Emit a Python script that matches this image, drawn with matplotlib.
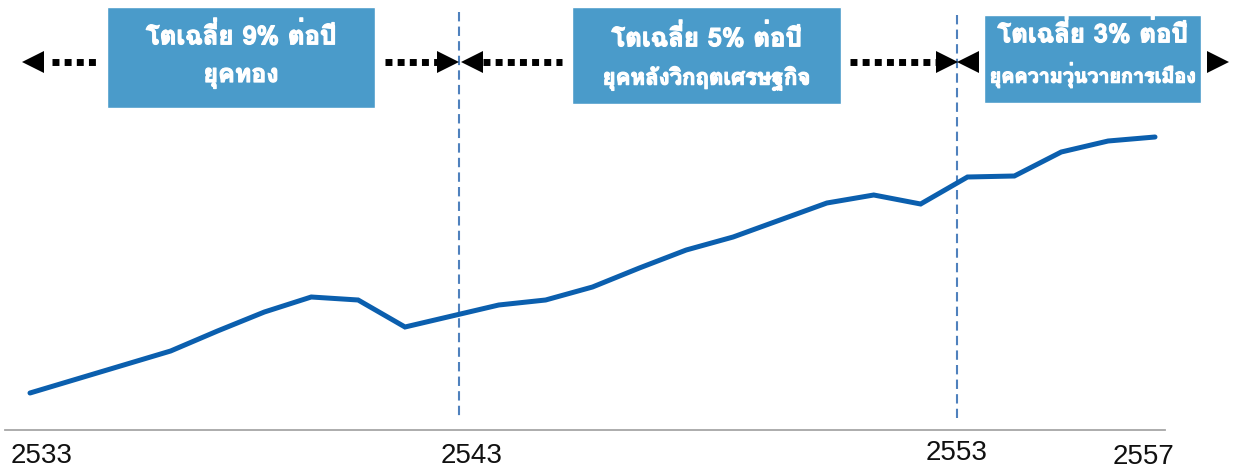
import matplotlib
matplotlib.use("Agg")
import matplotlib.pyplot as plt
import matplotlib.patheffects as pe
from matplotlib import font_manager
from matplotlib.ft2font import FT2Font
from matplotlib.patches import Rectangle

# data (index)
years = list(range(2533, 2558))
values = [37, 51, 65, 79, 99, 118, 133, 130, 103, 114, 125, 130, 143,
          162, 180, 193, 210, 227, 235, 226, 253, 254, 278, 289, 293]
tick_labels = ['2533', '2543', '2553', '2557']
growth = ['โตเฉลี่ย 9% ต่อปี', 'โตเฉลี่ย 5% ต่อปี', 'โตเฉลี่ย 3% ต่อปี']
eras = ['ยุคทอง', 'ยุคหลังวิกฤตเศรษฐกิจ', 'ยุคความวุ่นวายการเมือง']


def thai_family():
    # pick any installed font that has Thai glyphs
    names = []
    for f in font_manager.fontManager.ttflist:
        try:
            cmap = FT2Font(f.fname).get_charmap()
        except Exception:
            continue
        if 0x0E42 in cmap and 0x0E1B in cmap and 0x0E48 in cmap:
            names.append(f.name)
    return names[0] if names else 'DejaVu Sans'


thai = thai_family()
plt.rcParams['font.family'] = [thai, 'DejaVu Sans']

fig = plt.figure(figsize=(12.34, 4.73), dpi=100)

# overlay in pixel coords for the annotations
ov = fig.add_axes([0, 0, 1, 1])
ov.set_xlim(0, 1234)
ov.set_ylim(473, 0)
ov.axis('off')

# main data axes
px_per_year = 1125 / 24
ax = fig.add_axes([0, 0, 1, 1])
ax.set_zorder(2)
ax.patch.set_visible(False)
ax.set_xlim(2533 - 30 / px_per_year, 2533 + 1204 / px_per_year)
ax.set_ylim(-43, 430)
ax.axis('off')
ax.plot(years, values, color='#0b5fae', lw=3.6, solid_joinstyle='miter',
        solid_capstyle='round')

# baseline and year labels
ov.plot([5, 1165], [430, 430], color='#a6a6a6', lw=1.3)
for lab, x, y in zip(tick_labels, [42, 472, 957, 1143], [456, 456, 453, 457]):
    ov.text(x, y, lab, ha='center', va='center', fontsize=20,
            family=['Liberation Sans Narrow', 'Liberation Sans'], color='#111111')

# period boundaries
for x, top in [(459, 12), (957, 15)]:
    ov.plot([x, x], [top, 418], color='#4f81bd', lw=1.5, dashes=(4.5, 2.5))

# boxes
boxes = [(107, 7, 375, 108, 35, 77), (572, 7, 841, 104, 37, 78),
         (984, 15, 1201, 103, 33, 75)]
sizes1 = [18.5, 18.5, 18.5]
sizes2 = [18, 16, 14.2]
bold = [pe.withStroke(linewidth=0.9, foreground='white')]
for (x0, y0, x1, y1, t1, t2), g, e, s1, s2 in zip(boxes, growth, eras, sizes1, sizes2):
    ov.add_patch(Rectangle((x0, y0), x1 - x0, y1 - y0, facecolor='#4a9bca',
                           edgecolor='white', lw=1))
    cx = (x0 + x1) / 2
    ov.text(cx, t1, g, ha='center', va='center', color='white',
            fontsize=s1, fontweight='bold', path_effects=bold)
    ov.text(cx, t2, e, ha='center', va='center', color='white',
            fontsize=s2, fontweight='bold', path_effects=bold)

# dotted arrows
ay = 62
dots = [(52, 97), (385, 437), (483, 562), (850, 940)]
for a, b in dots:
    ov.plot([a, b], [ay, ay], color='black', lw=5, dashes=(1, 0.75),
            solid_capstyle='butt', dash_capstyle='butt')
heads_left = [23, 462, 958]
heads_right = [458, 957, 1228]
for tip in heads_left:
    ov.plot(tip + 10, ay, marker='<', color='black', ms=16, mew=0)
for tip in heads_right:
    ov.plot(tip - 10, ay, marker='>', color='black', ms=16, mew=0)

fig.savefig('out.png', dpi=100)
